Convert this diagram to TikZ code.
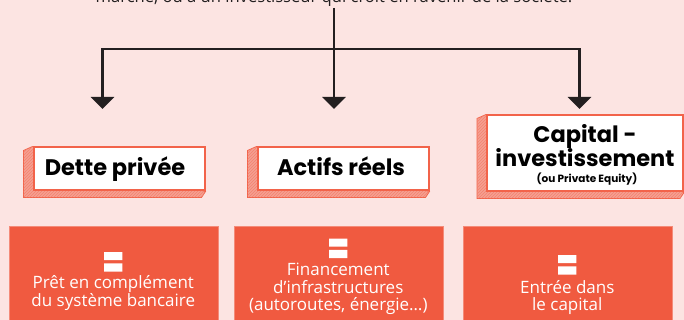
\documentclass[tikz,border=0pt]{standalone}
\usepackage{fontspec}
\setmainfont{Open Sans}
\newfontfamily\titlefont{Poppins}
\newfontfamily\eqfont{Poppins}[BoldFeatures={FakeBold=3}]
\usetikzlibrary{arrows.meta,patterns}
\definecolor{bgpink}{HTML}{FCE4E2}
\definecolor{boxred}{HTML}{F2634A}
\definecolor{outred}{HTML}{F05A40}
\definecolor{shadowred}{HTML}{F4A092}
\definecolor{darkline}{HTML}{231F20}
\pgfdeclarelayer{bg}
\pgfsetlayers{bg,main}
\tikzset{
  titlebox/.style={draw=boxred, line width=2pt, fill=white, inner sep=0pt},
  titletext/.style={anchor=base, font=\titlefont\bfseries\fontsize{22.5}{24}\selectfont, text=black, inner sep=0pt},
  smalltitle/.style={anchor=base, font=\titlefont\bfseries\fontsize{10.5}{11}\selectfont, text=black, inner sep=0pt},
  outbox/.style={fill=outred, draw=outred!70!white, line width=0.6pt, inner sep=0pt, anchor=north west, minimum width=209pt, minimum height=110pt},
  eqsign/.style={anchor=base, font=\eqfont\bfseries\fontsize{28}{28}\selectfont, text=white, inner sep=0pt},
  outtext/.style={anchor=base, font=\fontsize{17}{19}\selectfont, text=white, inner sep=0pt},
  connector/.style={draw=darkline, line width=2.6pt},
  arrowline/.style={connector, -{Triangle[width=23pt,length=12pt]}},
  shadowpoly/.style={fill=shadowred, draw=boxred, line width=0.8pt},
  shadowhatch/.style={pattern=north east lines, pattern color=boxred!80!white}
}
\newcommand{\bigeq}{\scalebox{1.1}[1.6]{=}}
\begin{document}
\begin{tikzpicture}[x=1pt,y=-1pt]
\useasboundingbox (0,0) rectangle (684,320);

% intro text (cut by the page edge)
\node[anchor=base, font=\fontsize{16.6}{18}\selectfont, text=darkline, inner sep=0pt] (intro) at (334,3) {marché, ou à un investisseur qui croit en l’avenir de la société.};

% title boxes
\node[titlebox, minimum width=171pt, minimum height=43pt] (t1) at (119,169) {};
\node[titlebox, minimum width=171pt, minimum height=43pt] (t2) at (343,169) {};
\node[titlebox, minimum width=196pt, minimum height=76pt] (t3) at (585,153.5) {};

\node[titletext] (t1a) at (115,176) {Dette privée};
\node[titletext] (t2a) at (341,176) {Actifs réels};
\node[titletext] (t3a) at (585,143) {Capital -};
\node[titletext] (t3b) at (585,167) {investissement};
\node[smalltitle] (t3c) at (587,183) {(ou Private Equity)};

% shadows and background
\begin{pgfonlayer}{bg}
\fill[bgpink] (0,0) rectangle (684,320);
\foreach \b in {t1,t2,t3}{
  \path[shadowpoly] (\b.north west) -- ([shift={(-9,4)}]\b.north west) -- ([shift={(-9,6)}]\b.south west) -- ([shift={(-4,6)}]\b.south east) -- (\b.south east) -- cycle;
  \path[shadowhatch] (\b.north west) -- ([shift={(-9,4)}]\b.north west) -- ([shift={(-9,6)}]\b.south west) -- ([shift={(-4,6)}]\b.south east) -- (\b.south east) -- cycle;
}
\end{pgfonlayer}

% connectors
\coordinate (top) at (334,8);
\coordinate (mid) at (334,49);
\coordinate (left) at (102.5,49);
\coordinate (right) at (579.5,49);
\coordinate (aL) at (102.5,109);
\coordinate (aM) at (334,109);
\coordinate (aR) at (579.5,109);
\draw[connector] (top) -- (mid);
\draw[connector, line cap=rect] (left) -- (right);
\draw[arrowline] (left) -- (aL);
\draw[arrowline] (mid) -- (aM);
\draw[arrowline] (right) -- (aR);

% bottom boxes
\node[outbox] (b1) at (8.5,226) {};
\node[outbox] (b2) at (233.5,226) {};
\node[outbox] (b3) at (462.5,226) {};

\node[eqsign] (e1) at (b1.north |- 0,277.5) {\bigeq};
\node[outtext] (b1a) at (b1.north |- 0,288) {Prêt en complément};
\node[outtext] (b1b) at (b1.north |- 0,306) {du système bancaire};

\node[eqsign] (e2) at (b2.north |- 0,264) {\bigeq};
\node[outtext] (b2a) at (b2.north |- 0,275) {Financement};
\node[outtext] (b2b) at (b2.north |- 0,293) {d’infrastructures};
\node[outtext] (b2c) at (b2.north |- 0,310.5) {(autoroutes, énergie…)};

\node[eqsign] (e3) at (b3.north |- 0,280.5) {\bigeq};
\node[outtext] (b3a) at (b3.north |- 0,293) {Entrée dans};
\node[outtext] (b3b) at (b3.north |- 0,310.5) {le capital};
\end{tikzpicture}
\end{document}
